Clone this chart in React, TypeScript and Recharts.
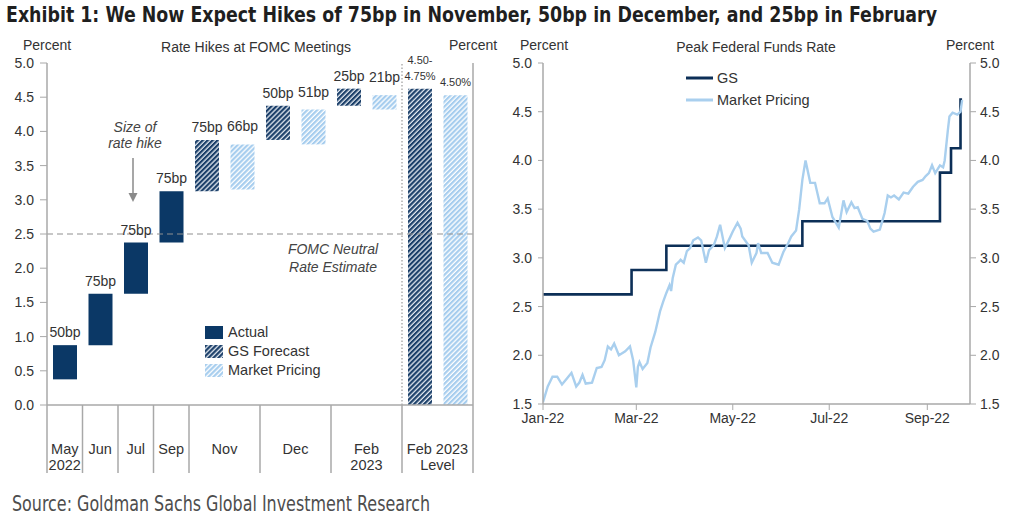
import React from 'react'
import {
  BarChart,
  Bar,
  Cell,
  LabelList,
  LineChart,
  Line,
  XAxis,
  YAxis,
  ReferenceLine,
  Legend,
} from 'recharts'

// ---- left panel: hikes at each FOMC meeting (floating bars, one per slot) ----
const slots = ['May', 'Jun', 'Jul', 'Sep', 'Nov GS', 'Nov Mkt', 'Dec GS', 'Dec Mkt', 'Feb GS', 'Feb Mkt', 'Level GS', 'Level Mkt']
const hikeFrom = [0.375, 0.875, 1.625, 2.375, 3.125, 3.15, 3.875, 3.81, 4.375, 4.32, 0, 0]
const hikeTo = [0.875, 1.625, 2.375, 3.125, 3.875, 3.81, 4.375, 4.32, 4.625, 4.53, 4.625, 4.53]
const hikeKind = ['actual', 'actual', 'actual', 'actual', 'gs', 'mkt', 'gs', 'mkt', 'gs', 'mkt', 'gs', 'mkt']
const hikeLabels = ['50bp', '75bp', '75bp', '75bp', '75bp', '66bp', '50bp', '51bp', '25bp', '21bp', '4.50-|4.75%', '4.50%']
const meetingTop = ['May', 'Jun', 'Jul', 'Sep', 'Nov', '', 'Dec', '', 'Feb', '', 'Feb 2023', '']
const meetingBottom = ['2022', '', '', '', '', '', '', '', '2023', '', 'Level', '']
const meetingSpan = [1, 1, 1, 1, 2, 0, 2, 0, 2, 0, 2, 0]
const pctTicks = [0, 0.5, 1, 1.5, 2, 2.5, 3, 3.5, 4, 4.5, 5]

// ---- right panel: peak fed funds rate, x = days since 1 Jan 2022 ----
const monthTicks = [0, 59, 120, 181, 243]
const monthLabels = ['Jan-22', 'Mar-22', 'May-22', 'Jul-22', 'Sep-22']
const peakTicks = [1.5, 2, 2.5, 3, 3.5, 4, 4.5, 5]
const gsDays = [0, 56, 78, 164, 251, 258, 264, 265]
const gsPeak = [2.625, 2.875, 3.125, 3.375, 3.875, 4.125, 4.625, 4.625]
const mktDays = [
  0, 3, 6, 9, 12, 15, 18, 21, 23, 25, 27, 31, 34, 37, 39, 41, 43, 45, 48, 52, 55, 57, 59, 60, 61, 63, 66, 68, 71, 74,
  76, 78, 80, 81, 82, 84, 86, 87, 89, 91, 93, 95, 98, 100, 103, 105, 108, 110, 112, 115, 118, 120, 123, 125, 126, 130,
  132, 135, 136, 138, 142, 145, 149, 152, 155, 157, 160, 162, 164, 166, 169, 172, 175, 178, 180, 183, 187, 190, 192,
  195, 197, 199, 202, 205, 207, 209, 213, 216, 218, 220, 222, 225, 228, 231, 234, 237, 240, 242, 244, 246, 248, 251,
  253, 254, 256, 257, 259, 262, 264, 265,
]
const mktPeak = [
  1.52, 1.68, 1.78, 1.78, 1.7, 1.76, 1.82, 1.68, 1.72, 1.8, 1.71, 1.72, 1.87, 1.88, 1.95, 2.09, 2.06, 2.12, 2.0, 2.04,
  2.09, 1.95, 1.67, 1.88, 1.93, 1.86, 1.92, 2.08, 2.24, 2.45, 2.55, 2.64, 2.72, 2.66, 2.79, 2.93, 2.96, 2.98, 2.95, 3.07,
  3.1, 3.18, 3.21, 3.18, 2.95, 3.08, 3.13, 3.22, 3.34, 3.1, 3.2, 3.27, 3.36, 3.3, 3.22, 3.13, 2.95, 3.05, 3.15, 3.05,
  3.05, 2.95, 2.93, 3.06, 3.15, 3.22, 3.28, 3.5, 3.8, 4.0, 3.77, 3.77, 3.56, 3.56, 3.61, 3.42, 3.31, 3.59, 3.47, 3.57,
  3.51, 3.52, 3.4, 3.38, 3.3, 3.27, 3.29, 3.46, 3.64, 3.62, 3.64, 3.6, 3.67, 3.66, 3.73, 3.78, 3.8, 3.84, 3.87, 3.95,
  3.87, 3.95, 3.93, 4.0, 4.31, 4.45, 4.49, 4.47, 4.5, 4.62,
]

const FONT = '"Liberation Sans", Arial, Helvetica, sans-serif'
const NARROW = '"Liberation Sans Narrow", "DejaVu Sans Condensed", "Liberation Sans", sans-serif'
const NAVY = '#0b3866'
const GS_LINE = '#0c2f57'
const LIGHT = '#a9cfee'
const AXIS = '#a8a8a8'
const TEXT = '#333333'

const kindFill: Record<string, string> = {
  actual: NAVY,
  gs: 'url(#gsHatch)',
  mkt: 'url(#mktHatch)',
}

const hikeData = slots.map((slot, i) => ({
  slot,
  range: [hikeFrom[i], hikeTo[i]],
  label: hikeLabels[i],
}))
const gsData = gsDays.map((day, i) => ({ day, value: gsPeak[i] }))
const mktData = mktDays.map((day, i) => ({ day, value: mktPeak[i] }))

const tickStyle = { fill: TEXT, fontSize: 14, fontFamily: FONT }

function MeetingTick(props: any) {
  const { x, y, payload, index } = props
  const half = payload && payload.offset ? payload.offset : 17.75
  const span = meetingSpan[index]
  const parts: React.ReactNode[] = []
  if (span > 0) {
    parts.push(<line key="d" x1={x - half} x2={x - half} y1={y} y2={y + 68} stroke={AXIS} strokeWidth={1.5} />)
  }
  if (index === slots.length - 1) {
    parts.push(<line key="e" x1={x + half} x2={x + half} y1={y} y2={y + 68} stroke={AXIS} strokeWidth={1.5} />)
  }
  if (span > 0) {
    const cx = span === 2 ? x + half : x
    parts.push(
      <text key="t" x={cx} y={y + 49} textAnchor="middle" fill={TEXT} fontSize={14.5} fontFamily={FONT}>
        {meetingTop[index]}
      </text>
    )
    if (meetingBottom[index]) {
      parts.push(
        <text key="b" x={cx} y={y + 65} textAnchor="middle" fill={TEXT} fontSize={14.5} fontFamily={FONT}>
          {meetingBottom[index]}
        </text>
      )
    }
  }
  return <g>{parts}</g>
}

function HikeLabel(props: any) {
  const { x, y, width, height, value, index } = props
  const top = Math.min(y, y + height)
  const cx = x + width / 2
  const lines = String(value).split('|')
  if (index >= 10) {
    return (
      <g>
        {lines.map((ln, k) => (
          <text key={k} x={cx} y={top - 9 - (lines.length - 1 - k) * 16} textAnchor="middle" fill={TEXT} fontSize={11} fontFamily={FONT}>
            {ln}
          </text>
        ))}
      </g>
    )
  }
  const gap = hikeKind[index] === 'mkt' ? 13 : 8
  return (
    <text x={cx} y={top - gap} textAnchor="middle" fill={TEXT} fontSize={14} fontFamily={FONT}>
      {value}
    </text>
  )
}

const hikeLegend = [
  { name: 'Actual', fill: NAVY },
  { name: 'GS Forecast', fill: 'url(#gsHatch)' },
  { name: 'Market Pricing', fill: 'url(#mktHatch)' },
]

const peakLegend = [
  { name: 'GS', color: GS_LINE },
  { name: 'Market Pricing', color: LIGHT },
]

function renderHikeLegend() {
  return (
    <div style={{ fontFamily: FONT, fontSize: 14.5, color: TEXT, lineHeight: '19px' }}>
      {hikeLegend.map((it) => (
        <div key={it.name} style={{ display: 'flex', alignItems: 'center', height: 19 }}>
          <svg width={18} height={13} style={{ marginRight: 5 }}>
            <rect width={18} height={13} fill={it.fill} />
          </svg>
          {it.name}
        </div>
      ))}
    </div>
  )
}

function renderPeakLegend() {
  return (
    <div style={{ fontFamily: FONT, fontSize: 14.5, color: TEXT }}>
      {peakLegend.map((it) => (
        <div key={it.name} style={{ display: 'flex', alignItems: 'center', height: 22 }}>
          <svg width={27} height={6} style={{ marginRight: 4 }}>
            <line x1={0} x2={27} y1={3} y2={3} stroke={it.color} strokeWidth={3} />
          </svg>
          {it.name}
        </div>
      ))}
    </div>
  )
}

function FomcHikesChart() {
  return (
    <BarChart
      width={520}
      height={480}
      data={hikeData}
      margin={{ top: 63, right: 7, bottom: 8, left: 7 }}
      barCategoryGap={0}
    >
      <defs>
        <pattern id="gsHatch" width="3.5" height="3.5" patternUnits="userSpaceOnUse" patternTransform="rotate(45)">
          <rect width="3.5" height="3.5" fill="#e3e9f1" />
          <rect width="2.2" height="3.5" fill="#1b3f69" />
        </pattern>
        <pattern id="mktHatch" width="3.5" height="3.5" patternUnits="userSpaceOnUse" patternTransform="rotate(45)">
          <rect width="3.5" height="3.5" fill="#ffffff" />
          <rect width="2.2" height="3.5" fill="#a6cdee" />
        </pattern>
      </defs>
      <XAxis
        dataKey="slot"
        height={67}
        interval={0}
        tickLine={false}
        tickSize={0}
        tickMargin={0}
        tick={<MeetingTick />}
        axisLine={{ stroke: AXIS, strokeWidth: 1.5 }}
      />
      <YAxis
        yAxisId="l"
        domain={[0, 5]}
        ticks={pctTicks}
        width={40}
        tickSize={7}
        tickMargin={6}
        tick={tickStyle}
        tickFormatter={(v: number) => v.toFixed(1)}
        axisLine={{ stroke: AXIS, strokeWidth: 1.5 }}
        tickLine={{ stroke: AXIS }}
      />
      <YAxis
        yAxisId="r"
        orientation="right"
        domain={[0, 5]}
        ticks={pctTicks}
        width={40}
        tickSize={6}
        tickMargin={4}
        tick={tickStyle}
        tickFormatter={(v: number) => v.toFixed(1)}
        axisLine={{ stroke: AXIS, strokeWidth: 1.5 }}
        tickLine={{ stroke: AXIS }}
      />
      <ReferenceLine yAxisId="l" y={2.5} stroke="#8f8f8f" strokeWidth={1.2} strokeDasharray="6 4" />
      <ReferenceLine
        yAxisId="l"
        x="Level GS"
        position="start"
        stroke="#9a9a9a"
        strokeWidth={1.2}
        strokeDasharray="1.5 2"
      />
      <Bar yAxisId="l" dataKey="range" barSize={24} isAnimationActive={false}>
        {hikeData.map((d, i) => (
          <Cell key={d.slot} fill={kindFill[hikeKind[i]]} />
        ))}
        <LabelList dataKey="label" content={<HikeLabel />} />
      </Bar>
      <Legend
        layout="vertical"
        align="center"
        verticalAlign="middle"
        content={renderHikeLegend}
        wrapperStyle={{ left: 205, top: 323, width: 'auto', height: 'auto' }}
      />
    </BarChart>
  )
}

function PeakRateChart() {
  return (
    <LineChart width={524} height={480} data={mktData} margin={{ top: 63, right: 14, bottom: 46, left: 3 }}>
      <XAxis
        type="number"
        dataKey="day"
        domain={[0, 270]}
        ticks={monthTicks}
        tickFormatter={(v: number) => monthLabels[monthTicks.indexOf(v)] ?? ''}
        height={30}
        tickSize={6}
        tickMargin={3}
        tick={tickStyle}
        axisLine={{ stroke: AXIS, strokeWidth: 1.5 }}
        tickLine={{ stroke: AXIS }}
        allowDataOverflow
      />
      <YAxis
        yAxisId="l"
        domain={[1.5, 5]}
        ticks={peakTicks}
        width={40}
        tickSize={5}
        tickMargin={6}
        tick={tickStyle}
        tickFormatter={(v: number) => v.toFixed(1)}
        axisLine={{ stroke: AXIS, strokeWidth: 1.5 }}
        tickLine={{ stroke: AXIS }}
      />
      <YAxis
        yAxisId="r"
        orientation="right"
        domain={[1.5, 5]}
        ticks={peakTicks}
        width={40}
        tickSize={6}
        tickMargin={4}
        tick={tickStyle}
        tickFormatter={(v: number) => v.toFixed(1)}
        axisLine={{ stroke: AXIS, strokeWidth: 1.5 }}
        tickLine={{ stroke: AXIS }}
      />
      {/* GS is plotted against the right axis: same 1.5-5.0 scale as the left one */}
      <Line
        yAxisId="r"
        data={gsData}
        dataKey="value"
        type="stepAfter"
        stroke={GS_LINE}
        strokeWidth={2.6}
        dot={false}
        isAnimationActive={false}
      />
      <Line
        yAxisId="l"
        data={mktData}
        dataKey="value"
        type="linear"
        stroke={LIGHT}
        strokeWidth={2.4}
        dot={false}
        isAnimationActive={false}
      />
      <Legend
        layout="vertical"
        align="center"
        verticalAlign="middle"
        content={renderPeakLegend}
        wrapperStyle={{ left: 186, top: 67, width: 'auto', height: 'auto' }}
      />
    </LineChart>
  )
}

export default function App() {
  return (
    <div
      style={{
        position: 'absolute',
        left: 0,
        top: 0,
        width: 1024,
        height: 524,
        background: '#fff',
        fontFamily: FONT,
        overflow: 'hidden',
      }}
    >
      <div style={{ position: 'absolute', left: 0, top: 0 }}>
        <FomcHikesChart />
      </div>
      <div style={{ position: 'absolute', left: 500, top: 0 }}>
        <PeakRateChart />
      </div>
      <svg width={1024} height={524} style={{ position: 'absolute', left: 0, top: 0, pointerEvents: 'none' }}>
        <text
          x={6}
          y={22}
          fontFamily={NARROW}
          fontWeight="bold"
          fontSize={21}
          fill="#1f1f1f"
          textLength={931}
          lengthAdjust="spacingAndGlyphs"
        >
          Exhibit 1: We Now Expect Hikes of 75bp in November, 50bp in December, and 25bp in February
        </text>

        <g fontFamily={FONT} fontSize={14} fill={TEXT} textAnchor="middle">
          <text x={47} y={50}>Percent</text>
          <text x={256} y={52}>Rate Hikes at FOMC Meetings</text>
          <text x={473} y={50}>Percent</text>
          <text x={544} y={50}>Percent</text>
          <text x={756} y={52}>Peak Federal Funds Rate</text>
          <text x={970} y={50}>Percent</text>
        </g>

        <g fontFamily={FONT} fontSize={14} fill="#444" fontStyle="italic" textAnchor="middle">
          <text x={135} y={132}>Size of</text>
          <text x={135} y={148}>rate hike</text>
          <text x={333} y={254}>FOMC  Neutral</text>
          <text x={333} y={272}>Rate Estimate</text>
        </g>
        <line x1={133} x2={133} y1={158} y2={194} stroke="#8a8a8a" strokeWidth={1.5} />
        <polygon points="128.5,193 137.5,193 133,202" fill="#8a8a8a" />

        <text
          x={12}
          y={511}
          fontFamily={NARROW}
          fontSize={21}
          fill="#4d4d4d"
          textLength={418}
          lengthAdjust="spacingAndGlyphs"
        >
          Source: Goldman Sachs Global Investment Research
        </text>
      </svg>
    </div>
  )
}
